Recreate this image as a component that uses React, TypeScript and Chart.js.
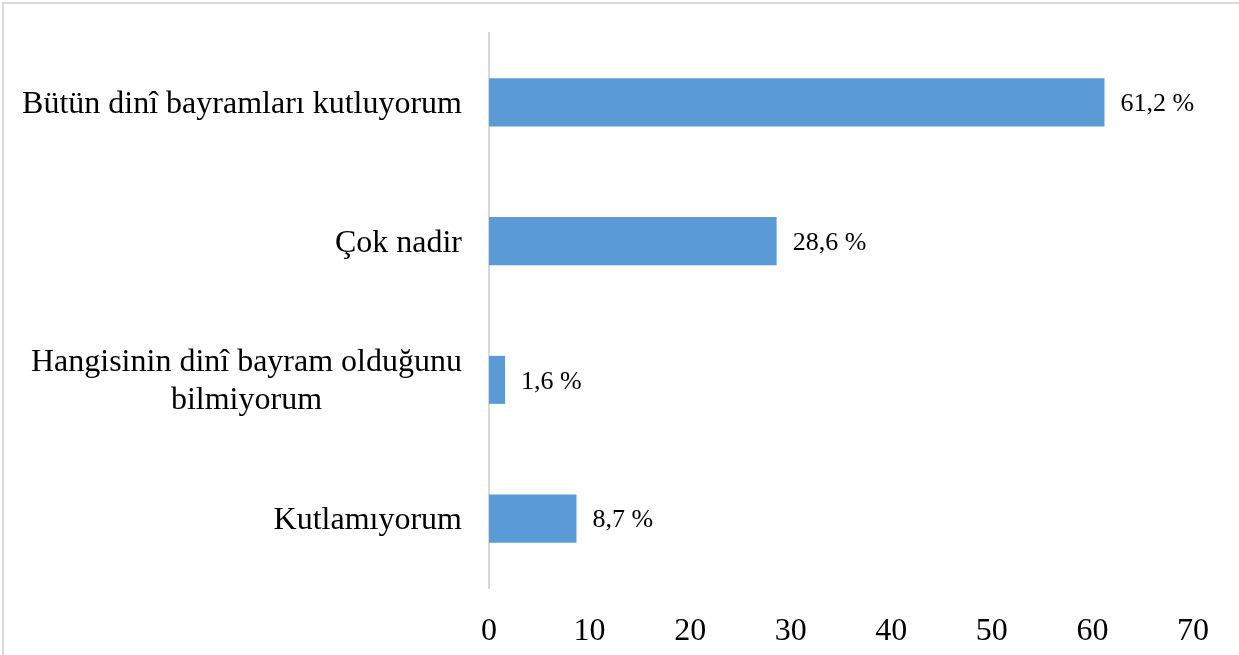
import React, { useEffect, useRef } from "react";
import { Chart, registerables } from "chart.js";

Chart.register(...registerables);

const categories: (string | string[])[] = [
  "Bütün dinî bayramları kutluyorum",
  "Çok nadir",
  ["Hangisinin dinî bayram olduğunu", "bilmiyorum"],
  "Kutlamıyorum",
];
const values: number[] = [61.2, 28.6, 1.6, 8.7];
const xMin = 0;
const xMax = 70;
const xStep = 10;

const FONT = "'Liberation Serif', 'Times New Roman', serif";

const yLabelPlugin = {
  id: "yLabelPlugin",
  afterDraw(chart: any) {
    const ctx = chart.ctx;
    const yScale = chart.scales.y;
    const right = chart.chartArea.left - 27;
    ctx.save();
    ctx.font = `32px ${FONT}`;
    ctx.fillStyle = "#000";
    ctx.textAlign = "center";
    ctx.textBaseline = "middle";
    const lh = 38;
    categories.forEach((lab, i) => {
      const lines = Array.isArray(lab) ? lab : [lab];
      const w = Math.max(...lines.map((l) => ctx.measureText(l).width));
      const cx = right - w / 2;
      const cy = yScale.getPixelForValue(i) + 2;
      lines.forEach((l, j) => {
        ctx.fillText(l, cx, cy + (j - (lines.length - 1) / 2) * lh);
      });
    });
    ctx.restore();
  },
};

const dataLabelPlugin = {
  id: "dataLabelPlugin",
  afterDatasetsDraw(chart: any) {
    const ctx = chart.ctx;
    const meta = chart.getDatasetMeta(0);
    ctx.save();
    ctx.font = `26px ${FONT}`;
    ctx.fillStyle = "#000";
    ctx.textAlign = "left";
    ctx.textBaseline = "middle";
    meta.data.forEach((bar: any, i: number) => {
      const txt = `${values[i].toFixed(1).replace(".", ",")} %`;
      ctx.fillText(txt, bar.x + 16, bar.y + 2);
    });
    ctx.restore();
  },
};

export default function App() {
  const ref = useRef<HTMLCanvasElement | null>(null);

  useEffect(() => {
    document.body.style.margin = "0";
    document.body.style.overflow = "hidden";
    const chart = new Chart(ref.current as HTMLCanvasElement, {
      type: "bar",
      data: {
        labels: categories.map((c) => (Array.isArray(c) ? c.join(" ") : c)),
        datasets: [
          {
            data: values,
            backgroundColor: "#5b9bd5",
            borderWidth: 0,
            categoryPercentage: 1,
            barPercentage: 0.346,
          },
        ],
      },
      options: {
        indexAxis: "y",
        animation: false,
        responsive: false,
        maintainAspectRatio: false,
        layout: { padding: { top: 33, right: 46, bottom: 0, left: 0 } },
        plugins: {
          legend: { display: false },
          tooltip: { enabled: false },
        },
        scales: {
          x: {
            min: xMin,
            max: xMax,
            grid: { display: false },
            border: { display: false },
            ticks: {
              stepSize: xStep,
              color: "#000",
              font: { family: FONT, size: 32 },
              padding: 16,
              maxRotation: 0,
            },
            afterFit(scale: any) {
              scale.height = 67;
            },
          },
          y: {
            grid: { display: false },
            border: { display: true, color: "#d9d9d9", width: 2 },
            ticks: { display: false },
            afterFit(scale: any) {
              scale.width = 489;
            },
          },
        },
      },
      plugins: [yLabelPlugin, dataLabelPlugin],
    });
    return () => chart.destroy();
  }, []);

  return (
    <div style={{ position: "fixed", left: 0, top: 0, width: 1239, height: 655, background: "#fff" }}>
      <canvas ref={ref} width={1239} height={655} style={{ position: "absolute", left: 0, top: 0 }} />
      <div
        style={{
          position: "absolute",
          left: 2,
          top: 2,
          right: 0,
          bottom: 0,
          borderTop: "2px solid #d9d9d9",
          borderLeft: "2px solid #d9d9d9",
          pointerEvents: "none",
        }}
      />
    </div>
  );
}
